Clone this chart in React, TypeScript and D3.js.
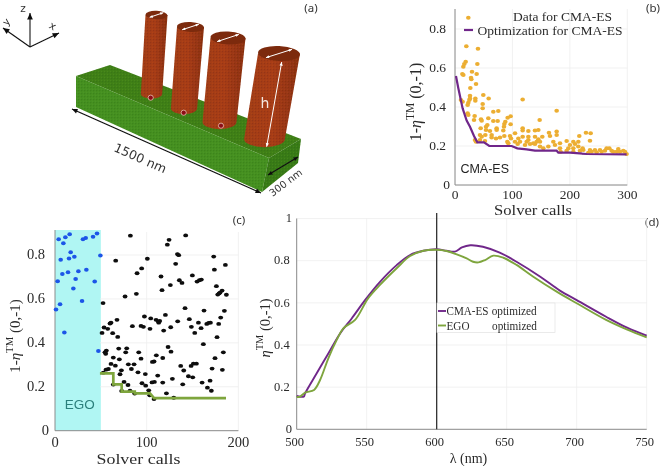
import React from "react";
import * as d3 from "d3";

const SERIF = "'Liberation Serif', serif";
const SANS = "'DejaVu Sans', sans-serif";
const ARIAL = "'Liberation Sans', sans-serif";

// Panel (b)
const bScatterX = [23.2,19.7,40,38.9,18.6,16.2,14.5,12.8,14.5,29.6,27.9,28.4,37.7,36.6,26.7,26.1,25,23.2,22,26.1,13.3,10.4,35.4,35.4,49.3,58.6,48.2,48.2,22,34.2,33.1,23.2,45.3,46.4,58,66.7,75.4,91.7,96.9,66.7,74.3,87.6,85.9,85.3,96.9,44.7,54,56.3,72.5,46.4,54,52.8,60.9,63.8,72.5,63.8,71.4,84.1,78.3,85.9,91.1,95.7,97.5,92.8,43.5,43.5,34.8,36.6,52.2,117.8,177,147.4,177,145.1,117.8,117.8,139.3,127.7,104.5,163.6,165.4,177,139.3,145.1,127.7,117.8,110.3,152,148,136.4,139.3,104.5,109.1,113.2,121.9,124.8,130.6,127.7,142.2,171.2,174.1,162.5,148,153.8,182.8,182.8,194.4,183.9,197.3,200.2,206,208.9,216.4,228,236.2,235,214.7,214.7,206,222.2,194.4,206,223.4,235,217.6,237.9,243.7,252.4,255.3,264,268.7,275.6,284.3,287.2,293,261.1,272.7,281.4,298.8,295.9,246.6,232.1];
const bScatterY = [.858,.711,.699,.621,.632,.621,.607,.569,.564,.581,.55,.542,.569,.518,.497,.458,.436,.422,.41,.443,.427,.436,.444,.432,.462,.443,.415,.393,.368,.354,.333,.359,.337,.33,.342,.376,.379,.345,.352,.328,.328,.325,.313,.299,.311,.291,.299,.308,.291,.248,.282,.256,.277,.256,.282,.244,.239,.279,.243,.251,.222,.251,.239,.214,.256,.231,.231,.222,.226,.439,.381,.333,.275,.282,.291,.279,.279,.277,.265,.268,.251,.256,.248,.234,.248,.248,.239,.248,.222,.214,.21,.222,.21,.222,.205,.222,.21,.231,.222,.222,.205,.197,.197,.188,.214,.188,.226,.171,.188,.205,.222,.21,.251,.268,.265,.227,.222,.197,.188,.188,.176,.171,.179,.179,.176,.171,.179,.179,.171,.188,.188,.171,.185,.171,.176,.176,.176,.171,.159,.171,.168,.166];
const bOptX = [1.7,5.8,13.3,20.3,26.1,33.1,38.9,50.5,59.7,98.6,108.5,124.8,139.3,177,179.9,200.2,229.2,298.8];
const bOptY = [.559,.496,.393,.33,.299,.251,.219,.219,.2,.2,.188,.183,.176,.176,.166,.166,.159,.157];
const bXTicks = [0,100,200,300];
const bYTicks = [0,.2,.4,.6,.8];

// Panel (c)
const cBlueX = [1.1,5.5,10.2,2.9,8,14.2,25.5,34.2,22.5,20,29.5,43.3,4,9.1,11.3,16,30.5,33.5,41.5,45.8,6.2,15.3,17.1,21.1,49.5,47.3];
const cBlueY = [.552,.576,.447,.681,.713,.722,.726,.733,.691,.647,.59,.679,.872,.854,.881,.895,.872,.877,.883,.898,.778,.784,.813,.792,.798,.363];
const cBlackX = [82.2,124.4,122.5,142.5,133.5,134.9,131.6,173.1,185.8,173.8,66.2,100.7,94.5,89.5,76.4,88.7,115.6,116.7,125.8,135.6,138.5,149.8,154.9,157.5,159.6,176,182.2,180,178.9,177.5,186.9,52.4,141.8,162.5,184.7,97.5,120.4,104.4,110.2,112.7,114.2,113.1,126.2,133.8,118.5,103.6,93.8,96.4,84.4,67.6,51.3,53.5,57.5,60,61.1,62.9,68.4,146.5,148.7,152.4,156.4,159.3,165.5,167.6,169.5,178.5,180.7,176.7,161.8,123.3,126.5,183.6,174.5,171.3,182.5,150.9,154.2,148.4,137.1,140.4,139.3,145.5,150.2,160.4,166.2,170.5,169.1,117.5,110.5,108,106.2,54.5,56,55.3,69.5,78.2,77.1,91.3,93.8,70.2,63.6,61.1,65.8,58.2,55.6,52.7,72.4,70.9,80,86.2,83.3,90.5,98.5,94.9,98.9,75.3,79.6,72.7,102.2,105.8,108.4,112,128,117.5,121.5,103.3,108,129.5,63.6,81.8,86.9];
const cBlackY = [.888,.869,.847,.889,.804,.799,.76,.793,.755,.733,.774,.783,.739,.717,.611,.623,.702,.64,.663,.685,.673,.707,.679,.685,.688,.658,.638,.629,.625,.62,.619,.581,.558,.547,.546,.52,.527,.511,.505,.497,.5,.492,.471,.498,.456,.464,.477,.473,.476,.505,.445,.47,.464,.488,.492,.444,.427,.508,.473,.445,.492,.467,.486,.491,.492,.486,.515,.426,.394,.381,.36,.357,.33,.283,.277,.305,.305,.295,.295,.274,.211,.248,.243,.219,.196,.182,.228,.331,.343,.315,.313,.357,.365,.35,.374,.375,.357,.357,.328,.325,.333,.304,.296,.281,.278,.264,.275,.257,.302,.302,.281,.266,.258,.216,.205,.222,.208,.181,.184,.22,.222,.251,.236,.219,.17,.161,.144,.15,.21,.182,.169];
const cStepX = [49,63.6,63.6,72.7,72.7,87,87,103.5,108,186.5];
const cStepY = [.261,.261,.211,.211,.178,.178,.17,.17,.148,.148];
const cXTicks = [0,100,200];
const cYTicks = [0,.2,.4,.6,.8];

// Panel (d)
const dCmaX = [500,505,506,514.3,522.6,531,539.3,548.8,559.5,571.4,581,590.5,600,607,613,618,624,633,645,657,674,688,700,721,736,750];
const dCmaY = [.158,.155,.171,.266,.36,.455,.526,.613,.70,.779,.827,.847,.854,.847,.843,.863,.873,.866,.838,.795,.724,.658,.613,.534,.482,.444];
const dEgoX = [500,502.4,506,512.4,516.7,522.6,528.6,533.3,541.7,551,559.5,571.4,581,590.5,600,607,614.3,621.4,626,629.8,634.5,640.5,647.6,657,669,685.7,700,721,735.7,750];
const dEgoY = [.153,.155,.174,.187,.234,.337,.424,.479,.519,.621,.685,.764,.822,.847,.852,.846,.83,.811,.795,.792,.803,.824,.814,.78,.724,.653,.598,.519,.474,.436];
const dXTicks = [500,550,600,650,700,750];
const dYTicks = [0,.2,.4,.6,.8,1];

// Panel (a) illustration: [topX, topY, rx, ry, bottomX, bottomY]
const pillarCenters = [
  [156.5,15,11,4.2,151.5,94],
  [190.5,27,13.5,5,184,108.5],
  [228,38,17.5,6.5,219.5,122],
  [279,53.5,21,7.5,264.5,139],
];
const pillarBaseDots = [[150.7,97.7],[183.7,112.7],[221,125.7]];
const blockTop = "76,76 110,65 301,139 269,158";
const blockFront = "76,76 269,158 262,192 76,107";
const blockSide = "269,158 301,139 298,163 262,192";

const PURPLE = "#70288a";
const GREEN = "#7ea53e";
const GOLD = "#ecae32";

const bx = d3.scaleLinear().domain([0,300]).range([455,627.3]);
const by = d3.scaleLinear().domain([0,.8]).range([185,29]);
const cx = d3.scaleLinear().domain([0,100]).range([55,146.7]);
const cy = d3.scaleLinear().domain([0,.8]).range([430.7,255]);
const dx = d3.scaleLinear().domain([500,750]).range([296.7,646.7]);
const dy = d3.scaleLinear().domain([0,.8]).range([429.3,260.7]);

function lineOf(xs:number[], ys:number[], sx:any, sy:any, curve:any=d3.curveLinear){
  return d3.line<number>().x(i=>sx(xs[i])).y(i=>sy(ys[i])).curve(curve)(xs.map((_,i)=>i)) as string;
}

function Grid({x0,x1,y0,y1,sx,sy,xt,yt}:any){
  return <g stroke="#eeeeee" strokeWidth={0.8}>
    {xt.map((t:number)=><line key={"x"+t} x1={sx(t)} x2={sx(t)} y1={y0} y2={y1}/>)}
    {yt.map((t:number)=><line key={"y"+t} x1={x0} x2={x1} y1={sy(t)} y2={sy(t)}/>)}
  </g>;
}

function Axes({x0,x1,y0,y1,sx,sy,xt,yt,size,xBase,yOff,intOff,xShift=0}:any){
  return <g fontFamily={SERIF} fontSize={size} fill="#2b2b2b">
    <path d={`M${x0},${y1}V${y0}H${x1}`} fill="none" stroke="#8c8c8c" strokeWidth={1}/>
    {xt.map((t:number)=><text key={t} x={sx(t)+xShift} y={xBase} textAnchor="middle">{t}</text>)}
    {yt.map((t:number)=><text key={t} x={x0-(Number.isInteger(t)?intOff:yOff)} y={sy(t)+size*0.3} textAnchor="end">{t}</text>)}
  </g>;
}

function EtaLabel({x,y,size,prefix}:{x:number,y:number,size:number,prefix:string}){
  return <text transform={`translate(${x},${y}) rotate(-90)`} fontFamily={SERIF} fontSize={size} fill="#2b2b2b" textAnchor="middle">
    {prefix}<tspan fontStyle="italic">η</tspan><tspan dy={-size*0.45} fontSize={size*0.72}>TM</tspan><tspan dy={size*0.45}> (0,-1)</tspan>
  </text>;
}

function Arrow({x1,y1,x2,y2,color,w=1.2,both=false,size=5}:any){
  const a=Math.atan2(y2-y1,x2-x1);
  const head=(x:number,y:number,an:number)=>`M${x},${y}L${x-size*Math.cos(an-0.42)},${y-size*Math.sin(an-0.42)}L${x-size*Math.cos(an+0.42)},${y-size*Math.sin(an+0.42)}Z`;
  return <g>
    <line x1={x1} y1={y1} x2={x2} y2={y2} stroke={color} strokeWidth={w}/>
    <path d={head(x2,y2,a)} fill={color}/>
    {both && <path d={head(x1,y1,a+Math.PI)} fill={color}/>}
  </g>;
}

function Pillar({c}:{c:number[]}){
  const [tx,ty,rx,ry,bx_,by_]=c;
  const brx=rx*0.97;
  const d=`M${tx-rx},${ty}L${bx_-brx},${by_}A${brx},${ry*1.1} 0 0 0 ${bx_+brx},${by_}L${tx+rx},${ty}Z`;
  return <g>
    <path d={d} fill="url(#bodyGrad)"/>
    <path d={d} fill="url(#redTex)"/>
    <ellipse cx={tx} cy={ty} rx={rx} ry={ry} fill="#7c2c10" transform={`rotate(3 ${tx} ${ty})`}/>
    <Arrow x1={tx-rx*0.62} y1={ty+ry*0.55} x2={tx+rx*0.62} y2={ty-ry*0.55} color="#ffffff" w={1} both size={3.5}/>
  </g>;
}

export default function App(){
  return <svg width={660} height={466} style={{position:"absolute",left:0,top:0,background:"#fff"}}>
    <defs>
      <linearGradient id="bodyGrad" x1="0" x2="1" y1="0" y2="0">
        <stop offset="0" stopColor="#a23e16"/><stop offset="0.5" stopColor="#a83c15"/><stop offset="1" stopColor="#8a3010"/>
      </linearGradient>
      <pattern id="redTex" width="3" height="3" patternUnits="userSpaceOnUse">
        <circle cx="0.8" cy="0.8" r="0.45" fill="#5e2008" opacity="0.7"/><circle cx="2.3" cy="2.2" r="0.35" fill="#c9571f" opacity="0.7"/>
      </pattern>
      <pattern id="greenTex" width="3" height="3" patternUnits="userSpaceOnUse">
        <circle cx="0.8" cy="0.8" r="0.45" fill="#1f5a0c" opacity="0.7"/><circle cx="2.3" cy="2.2" r="0.35" fill="#69ad2e" opacity="0.7"/>
      </pattern>
      <filter id="soft" x="-2%" y="-2%" width="104%" height="104%"><feGaussianBlur stdDeviation="0.35"/></filter>
    </defs>
    <g filter="url(#soft)">
      {/* Panel a */}
      <g>
        <polygon points={blockTop} fill="#3f7f18"/><polygon points={blockTop} fill="url(#greenTex)"/>
        <polygon points={blockFront} fill="#459020"/><polygon points={blockFront} fill="url(#greenTex)"/>
        <polygon points={blockSide} fill="#387a16"/><polygon points={blockSide} fill="url(#greenTex)"/>
        {pillarCenters.map((c,i)=><Pillar key={i} c={c}/>)}
        {pillarBaseDots.map((p,i)=><circle key={i} cx={p[0]} cy={p[1]} r={2.6} fill="#8c0c14" stroke="#f3d9c8" strokeWidth={0.7}/>)}
        <Arrow x1={266.7} y1={146.7} x2={281.7} y2={62} color="#fff" w={1} both size={4}/>
        <text x={265} y={108} fill="#f4e8e0" fontSize={14} fontFamily={SANS} textAnchor="middle">h</text>
        <Arrow x1={72} y1={109} x2={261} y2={193} color="#111" w={1.3} both size={6}/>
        <Arrow x1={268} y1={175} x2={298} y2={157} color="#111" w={1.2} both size={5}/>
        <text transform="translate(140,159) rotate(24)" fontFamily={SANS} fontSize={12.5} fill="#333" textAnchor="middle" dominantBaseline="middle">1500 nm</text>
        <text transform="translate(286,183) rotate(-37)" fontFamily={SANS} fontSize={10} fill="#333" textAnchor="middle" dominantBaseline="middle">300 nm</text>
        <Arrow x1={30} y1={47} x2={30} y2={13} color="#111" w={1.1} size={7}/>
        <Arrow x1={30} y1={47} x2={3} y2={28} color="#111" w={1.1} size={7}/>
        <Arrow x1={30} y1={47} x2={59} y2={33} color="#111" w={1.1} size={7}/>
        <text x={23} y={12} fontFamily={SANS} fontSize={10.5} fill="#333" textAnchor="middle">z</text>
        <text transform="translate(9,24) rotate(-50)" fontFamily={SANS} fontSize={10} fill="#333" textAnchor="middle">y</text>
        <text transform="translate(51,29) rotate(30)" fontFamily={SANS} fontSize={10.5} fill="#333" textAnchor="middle">x</text>
      </g>
      <g fontFamily="'Noto Sans', sans-serif" fontSize={11.5} fill="#333" textAnchor="middle">
        <text x={311} y={12}>(a)</text>
        <text x={653} y={12}>(b)</text>
        <text x={239} y={224}>(c)</text>
        <text x={652} y={226}>(d)</text>
      </g>

      {/* Panel b */}
      <Grid x0={455} x1={627.3} y0={185} y1={9} sx={bx} sy={by} xt={bXTicks} yt={bYTicks}/>
      <Axes x0={455} x1={627.3} y0={185} y1={9} sx={bx} sy={by} xt={bXTicks} yt={bYTicks} size={13.5} xBase={199} yOff={9} intOff={5}/>
      {bScatterX.map((x,i)=><ellipse key={i} cx={bx(x)} cy={by(bScatterY[i])} rx={2.3} ry={2} fill={GOLD}/>)}
      <path d={lineOf(bOptX,bOptY,bx,by)} fill="none" stroke={PURPLE} strokeWidth={2.2}/>
      <line x1={464} x2={473} y1={30} y2={30} stroke={PURPLE} strokeWidth={2.2}/>
      <g fontFamily={SERIF} fontSize={12.5} fill="#2b2b2b">
        <text x={513} y={21} textLength={99} lengthAdjust="spacingAndGlyphs">Data for CMA-ES</text>
        <text x={477.5} y={34.5} textLength={145} lengthAdjust="spacingAndGlyphs">Optimization for CMA-ES</text>
        <text x={494} y={215} fontSize={14} textLength={78} lengthAdjust="spacingAndGlyphs">Solver calls</text>
      </g>
      <EtaLabel x={421} y={102} size={16} prefix="1-"/>
      <text x={484.7} y={173} fontFamily={ARIAL} fontSize={12.5} fill="#222" textAnchor="middle">CMA-ES</text>

      {/* Panel c */}
      <rect x={cx(0)} y={230} width={cx(50)-cx(0)} height={430.7-230} fill="#b0f6f3"/>
      <Grid x0={100} x1={238.4} y0={430.7} y1={232} sx={cx} sy={cy} xt={[100,200]} yt={cYTicks}/>
      <Axes x0={55} x1={238.4} y0={430.7} y1={230} sx={cx} sy={cy} xt={cXTicks} yt={cYTicks} size={14.5} xBase={447} yOff={10} intOff={6}/>
      {cBlackX.map((x,i)=><ellipse key={i} cx={cx(x)} cy={cy(cBlackY[i])} rx={2.4} ry={1.9} fill="#0a0a0a"/>)}
      {cBlueX.map((x,i)=><ellipse key={i} cx={cx(x)} cy={cy(cBlueY[i])} rx={2.3} ry={2} fill="#1b55e8"/>)}
      <path d={lineOf(cStepX,cStepY,cx,cy)} fill="none" stroke={GREEN} strokeWidth={2.7}/>
      <text x={79.7} y={409} fontFamily={ARIAL} fontSize={13.5} fill="#2c7f7c" textAnchor="middle">EGO</text>
      <text x={96.5} y={464} fontFamily={SERIF} fontSize={15} fill="#2b2b2b" textLength={84} lengthAdjust="spacingAndGlyphs">Solver calls</text>
      <EtaLabel x={20} y={336} size={15} prefix="1-"/>

      {/* Panel d */}
      <Grid x0={296.7} x1={646.7} y0={429.3} y1={218.5} sx={dx} sy={dy} xt={dXTicks} yt={dYTicks}/>
      <Axes x0={296.7} x1={646.7} y0={429.3} y1={218.5} sx={dx} sy={dy} xt={dXTicks} yt={dYTicks} size={12.5} xBase={446} yOff={7} intOff={4.7} xShift={-2}/>
      <line x1={dx(600)} x2={dx(600)} y1={213} y2={429.3} stroke="#222" strokeWidth={1.2}/>
      <path d={lineOf(dCmaX,dCmaY,dx,dy,d3.curveCatmullRom)} fill="none" stroke={PURPLE} strokeWidth={1.9}/>
      <path d={lineOf(dEgoX,dEgoY,dx,dy,d3.curveCatmullRom)} fill="none" stroke={GREEN} strokeWidth={1.9}/>
      <rect x={437} y={303} width={118} height={29.5} fill="#fff" stroke="#e2e2e2" strokeWidth={0.7}/>
      <line x1={438} x2={446} y1={311} y2={311} stroke={PURPLE} strokeWidth={1.9}/>
      <line x1={438} x2={446} y1={325.5} y2={325.5} stroke={GREEN} strokeWidth={1.9}/>
      <g fontFamily={SERIF} fontSize={12} fill="#2b2b2b">
        <text x={446.5} y={315} textLength={42} lengthAdjust="spacingAndGlyphs">CMA-ES</text>
        <text x={491.7} y={315} textLength={45} lengthAdjust="spacingAndGlyphs">optimized</text>
        <text x={446.5} y={329.5} textLength={23} lengthAdjust="spacingAndGlyphs">EGO</text>
        <text x={492} y={329.5} textLength={45} lengthAdjust="spacingAndGlyphs">optimized</text>
      </g>
      <text x={468.5} y={463} fontFamily={SERIF} fontSize={14} fill="#2b2b2b" textAnchor="middle">λ (nm)</text>
      <EtaLabel x={270} y={328} size={14.5} prefix=""/>
    </g>
  </svg>;
}
